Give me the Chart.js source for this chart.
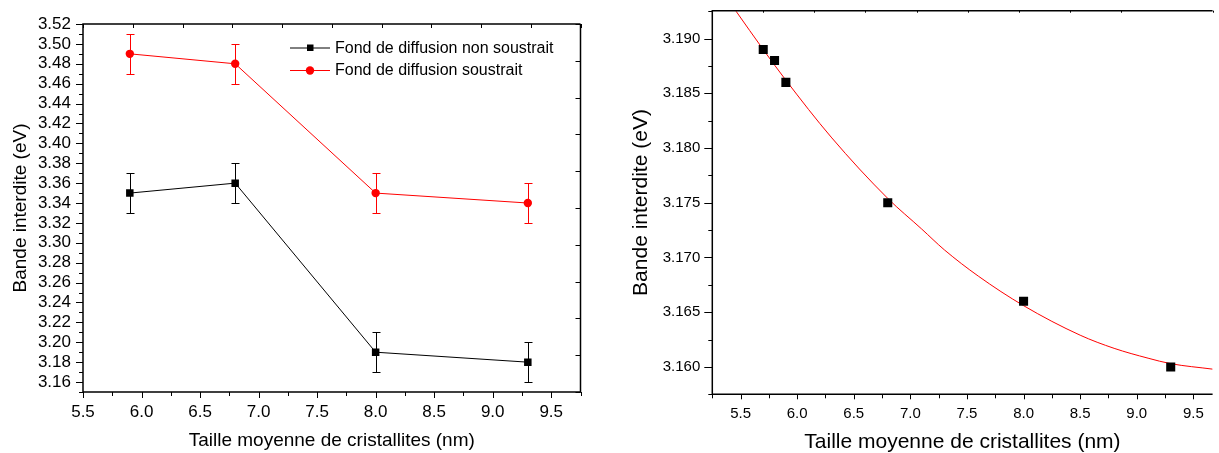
<!DOCTYPE html>
<html>
<head>
<meta charset="utf-8">
<script src="https://cdn.jsdelivr.net/npm/chart.js@4/dist/chart.umd.min.js"></script>
<style>
  html, body { margin: 0; padding: 0; background: #fff; }
  #leftBox { position: absolute; left: 0; top: 0; width: 600px; height: 453px; }
  #rightBox { position: absolute; left: 600px; top: 0; width: 619px; height: 453px; }
</style>
</head>
<body>
<div id="leftBox"><canvas id="gapChart"></canvas></div>
<div id="rightBox"><canvas id="fitChart"></canvas></div>
<script>
// left panel: band gap vs crystallite size, with and without background subtraction
const sizes = [5.9, 6.8, 8.0, 9.3];
const gapNotSubtracted = [3.35, 3.36, 3.19, 3.18];
const gapSubtracted = [3.49, 3.48, 3.35, 3.34];
const gapError = [0.02, 0.02, 0.02, 0.02];

const fitSizes = [5.7, 5.8, 5.9, 6.8, 8.0, 9.3];
const fitGap = [3.189, 3.188, 3.186, 3.175, 3.166, 3.160];
const curveSizes = [5.46, 5.7, 5.9, 6.3, 6.8, 7.1, 7.3, 7.6, 8.0, 8.5, 8.8, 9.1, 9.3, 9.67];
const curveGap = [3.1925, 3.1890, 3.1862, 3.1810, 3.1754, 3.1726, 3.1707, 3.1683, 3.1656, 3.1629, 3.1617, 3.1608, 3.1603, 3.1598];

const legendLabels = ['Fond de diffusion non soustrait', 'Fond de diffusion soustrait'];
const xTitle = 'Taille moyenne de cristallites (nm)';
const yTitle = 'Bande interdite (eV)';

const FONT = "'Liberation Sans', Arial, Helvetica, sans-serif";
Chart.defaults.color = '#000';
Chart.defaults.font.family = FONT;

function pairs(xs, ys) {
  return xs.map((x, i) => ({ x, y: ys[i] }));
}

// fixed axis box sizes, and no extra padding pushed onto the chart area
function fixHeight(h) {
  return (s) => { s.height = h; s.paddingLeft = 0; s.paddingRight = 0; };
}
function fixWidth(w) {
  return (s) => { s.width = w; s.paddingTop = 0; s.paddingBottom = 0; };
}

function strokeTicks(ctx, scale, edge, len, minorLen) {
  const area = scale.chart.chartArea;
  const ticks = scale.ticks;
  if (!ticks.length) return;
  const step = ticks.length > 1 ? ticks[1].value - ticks[0].value : 0;
  const eps = step * 1e-6;
  const marks = ticks.map((t) => [t.value, len]);
  if (minorLen && step) {
    for (let i = -1; i < ticks.length; i++) {
      const v = (i < 0 ? ticks[0].value - step : ticks[i].value) + step / 2;
      if (v >= scale.min - eps && v <= scale.max + eps) marks.push([v, minorLen]);
    }
  }
  ctx.beginPath();
  marks.forEach(([v, l]) => {
    const p = Math.round(scale.getPixelForValue(v)) + 0.5;
    if (edge === 'bottom') { ctx.moveTo(p, area.bottom); ctx.lineTo(p, area.bottom + l); }
    if (edge === 'top') { ctx.moveTo(p, area.top); ctx.lineTo(p, area.top + l); }
    if (edge === 'left') { ctx.moveTo(area.left, p); ctx.lineTo(area.left - l, p); }
    if (edge === 'right') { ctx.moveTo(area.right, p); ctx.lineTo(area.right - l, p); }
  });
  ctx.stroke();
}

const axisFrame = {
  id: 'axisFrame',
  afterDraw(chart, args, opts) {
    const { ctx, chartArea: a, scales } = chart;
    ctx.save();
    ctx.strokeStyle = '#000';
    ctx.lineWidth = 1;
    strokeTicks(ctx, scales.x, 'bottom', opts.xMajor, opts.xMinor);
    strokeTicks(ctx, scales.y, 'left', opts.yMajor, opts.yMinor);
    if (scales.x2) strokeTicks(ctx, scales.x2, 'top', opts.topLen, 0);
    if (scales.y2) strokeTicks(ctx, scales.y2, 'right', opts.rightLen, 0);
    ctx.lineWidth = 1.5;
    ctx.beginPath();
    ctx.moveTo(a.right, a.top);
    ctx.lineTo(a.left, a.top);
    ctx.lineTo(a.left, a.bottom);
    ctx.lineTo(a.right, a.bottom);
    if (opts.rightSide) ctx.lineTo(a.right, a.top);
    ctx.stroke();
    ctx.restore();
  }
};

const errorBars = {
  id: 'errorBars',
  beforeDatasetsDraw(chart) {
    const { ctx, scales: { x, y } } = chart;
    chart.data.datasets.forEach((ds) => {
      if (!ds.errors) return;
      ctx.save();
      ctx.strokeStyle = ds.borderColor;
      ctx.lineWidth = 1;
      ds.data.forEach((pt, i) => {
        const px = Math.round(x.getPixelForValue(pt.x)) + 0.5;
        const hi = Math.round(y.getPixelForValue(pt.y + ds.errors[i])) + 0.5;
        const lo = Math.round(y.getPixelForValue(pt.y - ds.errors[i])) + 0.5;
        ctx.beginPath();
        ctx.moveTo(px, hi); ctx.lineTo(px, lo);
        ctx.moveTo(px - 4, hi); ctx.lineTo(px + 4, hi);
        ctx.moveTo(px - 4, lo); ctx.lineTo(px + 4, lo);
        ctx.stroke();
      });
      ctx.restore();
    });
  }
};

const insideLegend = {
  id: 'insideLegend',
  afterDraw(chart, args, opts) {
    const ctx = chart.ctx;
    ctx.save();
    chart.data.datasets.forEach((ds, i) => {
      const y = opts.y + i * opts.row;
      const x = opts.x;
      ctx.strokeStyle = ds.borderColor;
      ctx.fillStyle = ds.borderColor;
      ctx.lineWidth = 1;
      ctx.beginPath();
      ctx.moveTo(x, y + 0.5);
      ctx.lineTo(x + 40, y + 0.5);
      ctx.stroke();
      ctx.beginPath();
      if (ds.pointStyle === 'rect') {
        ctx.rect(x + 17, y - 3, 6.5, 6.5);
      } else {
        ctx.arc(x + 20, y + 0.5, 4.2, 0, Math.PI * 2);
      }
      ctx.fill();
      ctx.fillStyle = '#000';
      ctx.font = `16px ${FONT}`;
      ctx.textBaseline = 'middle';
      ctx.textAlign = 'left';
      ctx.fillText(ds.label, x + 45, y + 1);
    });
    ctx.restore();
  }
};

function hiddenScale(position, max, fitKey) {
  return {
    type: 'linear',
    position,
    min: 0,
    max,
    afterFit: (s) => {
      s[fitKey] = 0;
      s.paddingTop = 0; s.paddingBottom = 0; s.paddingLeft = 0; s.paddingRight = 0;
    },
    ticks: { display: false, stepSize: 0.1 },
    grid: { display: false, drawTicks: false },
    border: { display: false }
  };
}

new Chart(document.getElementById('gapChart'), {
  type: 'scatter',
  data: {
    datasets: [
      {
        label: legendLabels[0],
        data: pairs(sizes, gapNotSubtracted),
        errors: gapError,
        showLine: true,
        borderColor: '#000000',
        backgroundColor: '#000000',
        borderWidth: 1,
        pointStyle: 'rect',
        pointRadius: 5.3,
        pointBorderWidth: 0
      },
      {
        label: legendLabels[1],
        data: pairs(sizes, gapSubtracted),
        errors: gapError,
        showLine: true,
        borderColor: '#ff0000',
        backgroundColor: '#ff0000',
        borderWidth: 1,
        pointStyle: 'circle',
        pointRadius: 4.2,
        pointBorderWidth: 0
      }
    ]
  },
  options: {
    responsive: true,
    maintainAspectRatio: false,
    animation: false,
    layout: { padding: { left: 0, top: 24, right: 19.5, bottom: 0 } },
    plugins: {
      legend: { display: false },
      tooltip: { enabled: false },
      axisFrame: { xMajor: 6, xMinor: 4, yMajor: 7, yMinor: 4, topLen: 4, rightLen: 5, rightSide: true },
      insideLegend: { x: 290, y: 47.5, row: 22.5 }
    },
    scales: {
      x: {
        type: 'linear',
        position: 'bottom',
        min: 5.5,
        max: 9.75,
        afterFit: fixHeight(61),
        ticks: { stepSize: 0.5, includeBounds: false, autoSkip: false, maxRotation: 0, padding: 10,
          font: { size: 17 }, callback: (v) => v.toFixed(1) },
        grid: { display: false, drawTicks: false },
        border: { display: false },
        title: { display: true, text: xTitle, font: { size: 19 }, padding: { top: 0, bottom: 1 } }
      },
      y: {
        type: 'linear',
        position: 'left',
        min: 3.15,
        max: 3.52,
        afterFit: fixWidth(83),
        ticks: { stepSize: 0.02, includeBounds: false, autoSkip: false, padding: 12,
          font: { size: 17 }, callback: (v) => v.toFixed(2) },
        grid: { display: false, drawTicks: false },
        border: { display: false },
        title: { display: true, text: yTitle, font: { size: 19 }, padding: { top: 9, bottom: 0 } }
      },
      x2: hiddenScale('top', 1, 'height'),
      y2: hiddenScale('right', 1, 'width')
    }
  },
  plugins: [errorBars, axisFrame, insideLegend]
});

new Chart(document.getElementById('fitChart'), {
  type: 'scatter',
  data: {
    datasets: [
      {
        label: 'Mesures',
        data: pairs(fitSizes, fitGap),
        borderColor: '#000000',
        backgroundColor: '#000000',
        pointStyle: 'rect',
        pointRadius: 6.4,
        pointBorderWidth: 0
      },
      {
        label: 'Ajustement',
        data: pairs(curveSizes, curveGap),
        showLine: true,
        borderColor: '#ff0000',
        borderWidth: 1,
        cubicInterpolationMode: 'monotone',
        pointRadius: 0
      }
    ]
  },
  options: {
    responsive: true,
    maintainAspectRatio: false,
    animation: false,
    layout: { padding: { left: 0, top: 10.7, right: 0, bottom: 0 } },
    plugins: {
      legend: { display: false },
      tooltip: { enabled: false },
      axisFrame: { xMajor: 5, xMinor: 4, yMajor: 8, yMinor: 4, topLen: 2, rightSide: false }
    },
    scales: {
      x: {
        type: 'linear',
        position: 'bottom',
        min: 5.25,
        max: 9.67,
        afterFit: fixHeight(58.7),
        ticks: { stepSize: 0.5, includeBounds: false, autoSkip: false, maxRotation: 0, padding: 11,
          font: { size: 15 }, callback: (v) => v.toFixed(1) },
        grid: { display: false, drawTicks: false },
        border: { display: false },
        title: { display: true, text: xTitle, font: { size: 21 }, padding: { top: 0, bottom: -2 } }
      },
      y: {
        type: 'linear',
        position: 'left',
        min: 3.1575,
        max: 3.19255,
        afterFit: fixWidth(112.3),
        ticks: { stepSize: 0.005, includeBounds: false, autoSkip: false, padding: 12,
          font: { size: 15 }, callback: (v) => v.toFixed(3) },
        grid: { display: false, drawTicks: false },
        border: { display: false },
        title: { display: true, text: yTitle, font: { size: 21 }, padding: { top: 29, bottom: 0 } }
      },
      x2: hiddenScale('top', 0.98, 'height')
    }
  },
  plugins: [axisFrame]
});
</script>
</body>
</html>
